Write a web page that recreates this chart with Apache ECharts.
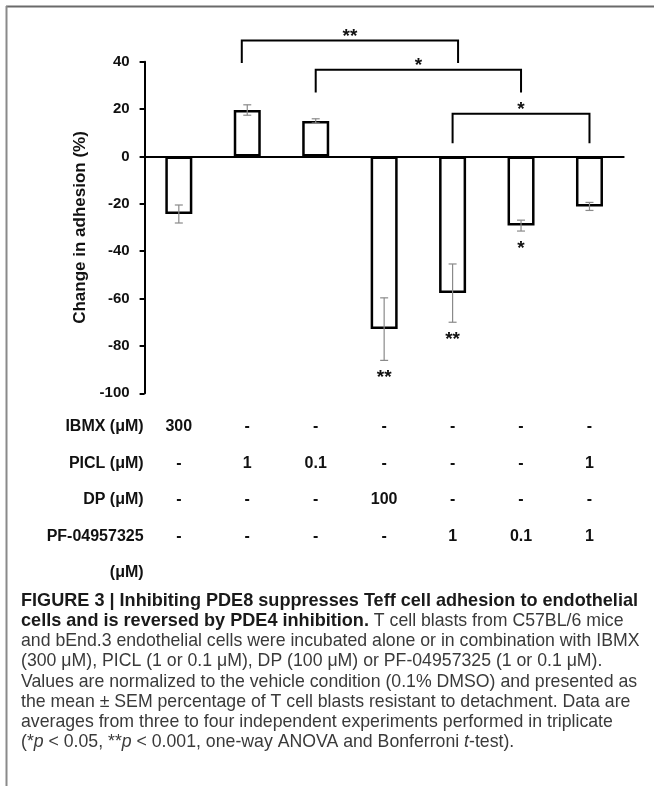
<!DOCTYPE html>
<html><head><meta charset="utf-8">
<script src="https://cdn.jsdelivr.net/npm/echarts@6/dist/echarts.min.js"></script>
<style>html,body{margin:0;padding:0;background:#fff}#c{width:654px;height:790px}</style>
</head><body><div id="c"></div>
<script>
// ---- data ----
const categories = ['IBMX 300', 'PICL 1', 'PICL 0.1', 'DP 100', 'PF 1', 'PF 0.1', 'PICL 1 + PF 1'];
const means = [-24.3, 19.6, 15.0, -72.9, -57.7, -29.2, -21.1];
const sems  = [3.8, 2.2, 0.9, 13.2, 12.3, 2.3, 1.7];
const barSig = ['', '', '', '**', '**', '*', ''];
const yMin = -100, yMax = 40, yStep = 20;
const yTitle = 'Change in adhesion (%)';
// comparison brackets (category positions, values in % units)
const bracketFrom  = [0.92, 2, 4];
const bracketTo    = [4.08, 5, 6];
const bracketTop   = [48.9, 36.6, 18.0];
const bracketLeg   = [39.4, 27.0, 5.6];
const bracketLabel = ['**', '*', '*'];
// treatment table
const rowNames = ['IBMX (μM)', 'PICL (μM)', 'DP (μM)', 'PF-04957325\n(μM)'];
const rowIBMX = ['300', '-', '-', '-', '-', '-', '-'];
const rowPICL = ['-', '1', '0.1', '-', '-', '-', '1'];
const rowDP   = ['-', '-', '-', '100', '-', '-', '-'];
const rowPF   = ['-', '-', '-', '-', '1', '0.1', '1'];
const tableRows = [rowIBMX, rowPICL, rowDP, rowPF];
const captionLines = [
  '{b|FIGURE 3 | Inhibiting PDE8 suppresses Teff cell adhesion to endothelial}',
  '{b|cells and is reversed by PDE4 inhibition.} T cell blasts from C57BL/6 mice',
  'and bEnd.3 endothelial cells were incubated alone or in combination with IBMX',
  '(300 μM), PICL (1 or 0.1 μM), DP (100 μM) or PF-04957325 (1 or 0.1 μM).',
  'Values are normalized to the vehicle condition (0.1% DMSO) and presented as',
  'the mean ± SEM percentage of T cell blasts resistant to detachment. Data are',
  'averages from three to four independent experiments performed in triplicate',
  '(*{i|p} < 0.05, **{i|p} < 0.001, one-way ANOVA and Bonferroni {i|t}-test).'
];

// ---- layout ----
const FONT = '"Liberation Sans", Arial, Helvetica, sans-serif';
const gridTop = 61.7, gridBottomY = 393.3, gridLeft = 144.6, gridRight = 30.3;
const rowCenters = [427, 464, 500, 537];
const ROW_LH = 36;
const CAP_FS = 17.7, CAP_BOLD_FS = 18.1;

const chart = echarts.init(document.getElementById('c'), null, {renderer: 'canvas'});

const xAxes = [{
  type: 'category', data: categories, gridIndex: 0, position: 'bottom',
  axisLine: {show: true, onZero: true, lineStyle: {color: '#000', width: 2}},
  axisTick: {show: false}, axisLabel: {show: false}, splitLine: {show: false}
}];
tableRows.forEach((row, k) => {
  xAxes.push({
    type: 'category', data: row, gridIndex: 0, position: 'bottom',
    offset: rowCenters[k] - ROW_LH / 2 - gridBottomY,
    axisLine: {show: false, onZero: false}, axisTick: {show: false}, splitLine: {show: false},
    axisLabel: {show: true, interval: 0, margin: 0, verticalAlign: 'top', lineHeight: ROW_LH,
      fontFamily: FONT, fontWeight: 'bold', fontSize: 16, color: '#111'},
    name: rowNames[k], nameLocation: 'start', nameGap: 1,
    nameTextStyle: {fontFamily: FONT, fontWeight: 'bold', fontSize: 16, color: '#111',
      align: 'right', verticalAlign: 'top', lineHeight: ROW_LH}
  });
});

function catX(api, v) {
  const i = Math.floor(v);
  const bw = api.size([1, 0])[0];
  return api.coord([i, 0])[0] + (v - i) * bw;
}

const option = {
  animation: false,
  backgroundColor: '#fff',
  grid: {left: gridLeft, right: gridRight, top: gridTop, bottom: 790 - gridBottomY, containLabel: false},
  xAxis: xAxes,
  yAxis: {
    type: 'value', min: yMin, max: yMax, interval: yStep,
    axisLine: {show: true, lineStyle: {color: '#000', width: 2}},
    axisTick: {show: true, inside: false, length: 5, lineStyle: {color: '#000', width: 2}},
    axisLabel: {fontFamily: FONT, fontWeight: 'bold', fontSize: 15, color: '#111', margin: 15},
    splitLine: {show: false},
    name: yTitle, nameLocation: 'middle', nameGap: 52, nameRotate: 90,
    nameTextStyle: {fontFamily: FONT, fontWeight: 'bold', fontSize: 17, color: '#111'}
  },
  series: [
    {
      type: 'bar', data: means, barWidth: 27, xAxisIndex: 0,
      itemStyle: {color: '#fff', borderColor: '#000', borderWidth: 2.5},
      z: 2
    },
    {
      type: 'custom', xAxisIndex: 0, z: 3,
      data: means.map((m, i) => [i, m, sems[i]]),
      renderItem: function (params, api) {
        const i = api.value(0), m = api.value(1), s = api.value(2);
        const top = api.coord([i, m + s]);
        const bot = api.coord([i, m - s]);
        const hw = 4;
        const st = {stroke: '#8a8a8a', lineWidth: 1.2};
        const children = [
          {type: 'line', shape: {x1: top[0], y1: top[1], x2: bot[0], y2: bot[1]}, style: st},
          {type: 'line', shape: {x1: top[0] - hw, y1: top[1], x2: top[0] + hw, y2: top[1]}, style: st},
          {type: 'line', shape: {x1: bot[0] - hw, y1: bot[1], x2: bot[0] + hw, y2: bot[1]}, style: st}
        ];
        const sig = barSig[params.dataIndex];
        if (sig) {
          children.push({type: 'text', style: {text: sig, x: bot[0], y: bot[1] + 17.5,
            align: 'center', verticalAlign: 'middle', fill: '#111',
            font: 'bold 19px ' + FONT}});
        }
        return {type: 'group', children: children};
      }
    },
    {
      type: 'custom', xAxisIndex: 0, z: 4,
      dimensions: [{name: 'from', type: 'number'}, {name: 'to', type: 'number'},
                   {name: 'top', type: 'number'}, {name: 'leg', type: 'number'}],
      encode: {x: [0, 1], y: [2, 3]},
      data: bracketFrom.map((f, k) => [f, bracketTo[k], bracketTop[k], bracketLeg[k]]),
      renderItem: function (params, api) {
        const k = params.dataIndex;
        const x1 = catX(api, bracketFrom[k]);
        const x2 = catX(api, bracketTo[k]);
        const yT = api.coord([0, bracketTop[k]])[1];
        const yL = api.coord([0, bracketLeg[k]])[1];
        return {type: 'group', children: [
          {type: 'polyline', shape: {points: [[x1, yL], [x1, yT], [x2, yT], [x2, yL]]},
           style: {stroke: '#000', lineWidth: 2, fill: null}},
          {type: 'text', style: {text: bracketLabel[k], x: (x1 + x2) / 2, y: yT - 3.8,
            align: 'center', verticalAlign: 'middle', fill: '#111', font: 'bold 19px ' + FONT}}
        ]};
      }
    }
  ],
  graphic: [
    {type: 'line', shape: {x1: 6, y1: 6.5, x2: 654, y2: 6.5}, style: {stroke: '#6a6a6a', lineWidth: 2}},
    {type: 'line', shape: {x1: 6.5, y1: 6, x2: 6.5, y2: 786}, style: {stroke: '#8a8a8a', lineWidth: 2}}
  ].concat(captionLines.map((t, k) => ({
    type: 'text', left: 21, top: 591 + k * 20.2,
    style: {
      text: t, fill: '#3a3a3a', font: CAP_FS + 'px ' + FONT, lineHeight: 20,
      rich: {
        b: {fontWeight: 'bold', fill: '#1a1a1a', fontSize: CAP_BOLD_FS, fontFamily: FONT},
        i: {fontStyle: 'italic', fontSize: CAP_FS, fontFamily: FONT, fill: '#3a3a3a'}
      }
    }
  })))
};
chart.setOption(option);
</script>
</body></html>
